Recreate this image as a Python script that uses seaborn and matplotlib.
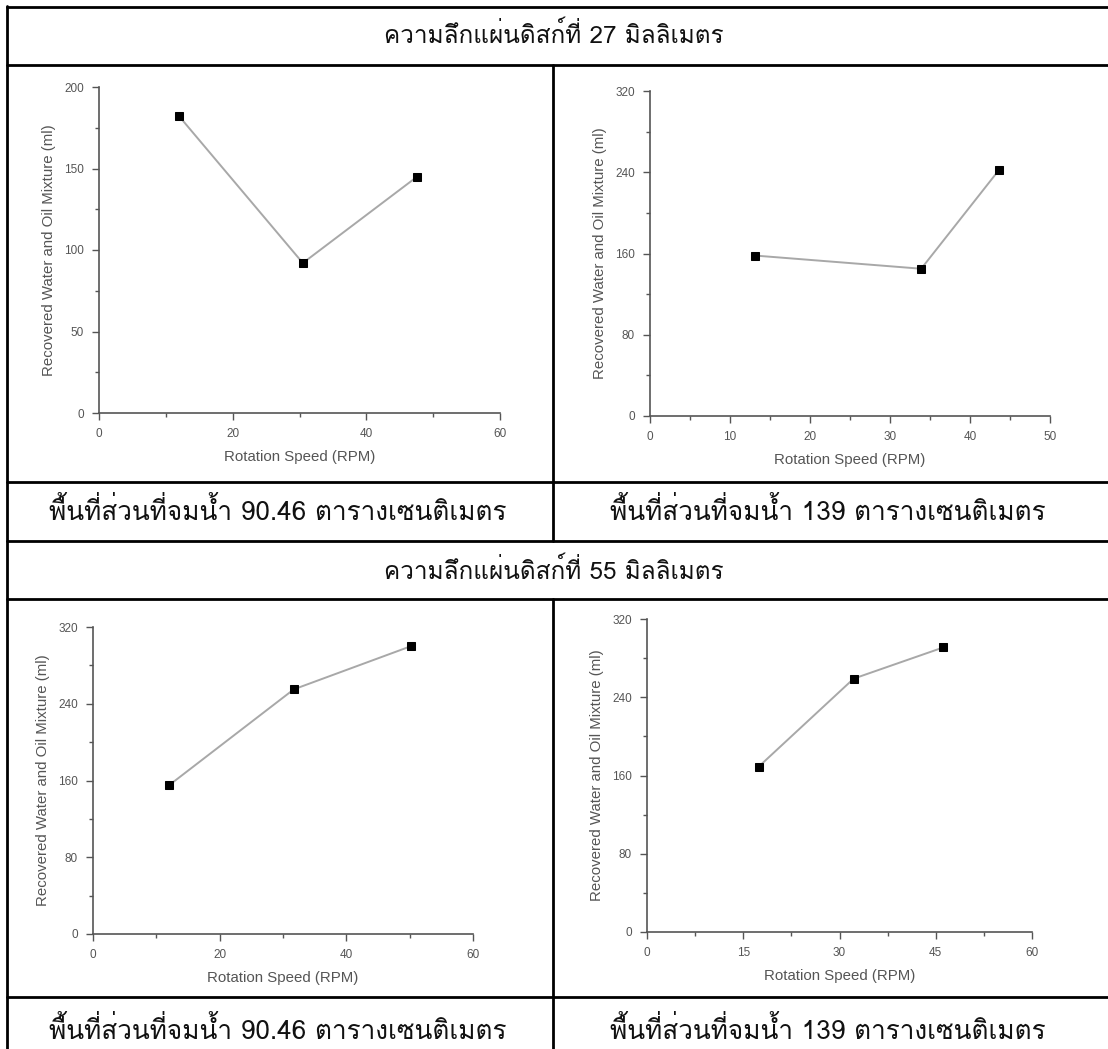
import matplotlib
matplotlib.use("Agg")
import matplotlib.pyplot as plt
import seaborn as sns
from matplotlib import font_manager, ft2font
from matplotlib.lines import Line2D
from matplotlib.ticker import MultipleLocator

# data
speed_27_a = [12.0, 30.5, 47.6]
water_27_a = [182, 92, 145]
speed_27_b = [13.1, 33.9, 43.6]
water_27_b = [158, 145, 242]
speed_55_a = [12.0, 31.7, 50.2]
water_55_a = [155, 255, 300]
speed_55_b = [17.4, 32.2, 46.2]
water_55_b = [169, 259, 291]

header_27 = "ความลึกแผ่นดิสก์ที่ 27 มิลลิเมตร"
header_55 = "ความลึกแผ่นดิสก์ที่ 55 มิลลิเมตร"
caption_a = "พื้นที่ส่วนที่จมน้ำ 90.46 ตารางเซนติเมตร"
caption_b = "พื้นที่ส่วนที่จมน้ำ 139 ตารางเซนติเมตร"

xlabel = "Rotation Speed (RPM)"
ylabel = "Recovered Water and Oil Mixture (ml)"


def find_thai_font():
    # look for any installed font that has thai glyphs
    for f in font_manager.fontManager.ttflist:
        try:
            ft = ft2font.FT2Font(f.fname)
            if ft.get_char_index(0x0E01) and ft.get_char_index(0x0E49):
                return f.name
        except Exception:
            pass
    return None


sns.set_style("ticks")
plt.rcParams["font.family"] = ["Liberation Sans", "DejaVu Sans"]
thai_font = find_thai_font()
thai_family = [thai_font, "DejaVu Sans"] if thai_font else ["DejaVu Sans"]

W, H = 1108, 1049
fig = plt.figure(figsize=(W / 100, H / 100), dpi=100)
fig.patch.set_facecolor("white")


def fx(px):
    return px / W


def fy(py):
    return 1 - py / H


# table grid
def hline(y, x0=7, x1=W):
    fig.add_artist(Line2D([fx(x0), fx(x1)], [fy(y), fy(y)], color="black", lw=2))


def vline(x, y0, y1):
    fig.add_artist(Line2D([fx(x), fx(x)], [fy(y0), fy(y1)], color="black", lw=2))


for y in [7, 65, 482, 541, 599, 997]:
    hline(y)
vline(7, 6, H)
vline(553, 65, 541)
vline(553, 599, H)

# header and caption cells
txt = dict(ha="center", va="center", family=thai_family, fontweight="light", color="#111111")
fig.text(fx(554), fy(35), header_27, fontsize=17.5, **txt)
fig.text(fx(554), fy(571), header_55, fontsize=17.5, **txt)
for yc in [511, 1030]:
    fig.text(fx(278), fy(yc), caption_a, fontsize=18.8, **txt)
    fig.text(fx(828), fy(yc), caption_b, fontsize=18.8, **txt)


def make_axes(x0, x1, y0, y1):
    # x0/x1: pixel of axis start/end, y0: pixel of zero line, y1: pixel of top
    return fig.add_axes([fx(x0), fy(y0), (x1 - x0) / W, (y0 - y1) / H])


panels = [
    (make_axes(99, 500, 413, 87), speed_27_a, water_27_a, 60, 20, 200, 50),
    (make_axes(650, 1050, 416, 91), speed_27_b, water_27_b, 50, 10, 320, 80),
    (make_axes(93, 473, 934, 627), speed_55_a, water_55_a, 60, 20, 320, 80),
    (make_axes(647, 1032, 932, 619), speed_55_b, water_55_b, 60, 15, 320, 80),
]

for ax, xs, ys, xmax, xstep, ymax, ystep in panels:
    sns.lineplot(x=xs, y=ys, ax=ax, color="#a8a8a8", lw=1.4, marker="s",
                 markersize=5.5, markerfacecolor="black", markeredgecolor="black",
                 clip_on=False)
    ax.set_xlim(0, xmax)
    ax.set_ylim(0, ymax)
    ax.xaxis.set_major_locator(MultipleLocator(xstep))
    ax.xaxis.set_minor_locator(MultipleLocator(xstep / 2))
    ax.yaxis.set_major_locator(MultipleLocator(ystep))
    ax.yaxis.set_minor_locator(MultipleLocator(ystep / 2))
    ax.set_facecolor("none")
    for side in ["top", "right"]:
        ax.spines[side].set_visible(False)
    for side in ["left", "bottom"]:
        ax.spines[side].set_color("#555555")
        ax.spines[side].set_linewidth(1.2)
    ax.tick_params(which="major", direction="out", length=5, width=1, color="#555555",
                   labelsize=8.5, labelcolor="#555555", pad=6)
    ax.tick_params(which="minor", direction="out", length=3, width=1, color="#555555")
    ax.set_xlabel(xlabel, fontsize=10.8, color="#555555", labelpad=7)
    ax.set_ylabel(ylabel, fontsize=10.8, color="#555555", labelpad=6)

fig.savefig("out.png", dpi=100, facecolor="white")
